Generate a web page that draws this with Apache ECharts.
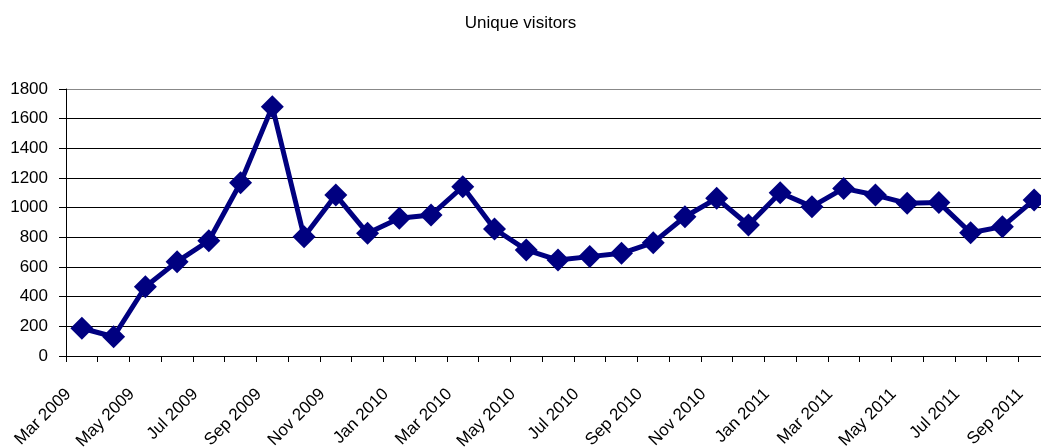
<!DOCTYPE html>
<html>
<head>
<meta charset="utf-8">
<script src="https://cdn.jsdelivr.net/npm/echarts@6/dist/echarts.min.js"></script>
<style>
html,body{margin:0;padding:0;background:#fff;}
#chart{width:1041px;height:448px;}
</style>
</head>
<body>
<div id="chart"></div>
<script>
const titleText = 'Unique visitors';
const months = ['Mar 2009','Apr 2009','May 2009','Jun 2009','Jul 2009','Aug 2009','Sep 2009','Oct 2009','Nov 2009','Dec 2009',
  'Jan 2010','Feb 2010','Mar 2010','Apr 2010','May 2010','Jun 2010','Jul 2010','Aug 2010','Sep 2010','Oct 2010','Nov 2010','Dec 2010',
  'Jan 2011','Feb 2011','Mar 2011','Apr 2011','May 2011','Jun 2011','Jul 2011','Aug 2011','Sep 2011'];
const visitors = [187,130,467,636,777,1168,1681,804,1085,827,
  928,950,1141,856,715,647,670,692,764,939,1063,883,
  1101,1007,1130,1085,1029,1034,831,872,1052];
const yTicks = {min:0, max:1800, interval:200};

const chart = echarts.init(document.getElementById('chart'));
const fontFam = '"Liberation Sans", Arial, sans-serif';
chart.setOption({
  animation:false,
  backgroundColor:'#fff',
  title:{text:titleText,left:'center',top:10,textStyle:{fontFamily:fontFam,fontSize:17,fontWeight:'normal',color:'#000'}},
  grid:{left:66,top:89,bottom:92,right:-9,containLabel:false,outerBoundsMode:'none'},
  xAxis:{type:'category',data:months,boundaryGap:true,
    axisLine:{lineStyle:{color:'#000',width:1}},
    axisTick:{show:true,length:6,interval:0,lineStyle:{color:'#000'}},
    axisLabel:{interval:1,rotate:45,margin:22,padding:[0,19,0,0],fontFamily:fontFam,fontSize:17,color:'#000'},
    splitLine:{show:false}},
  yAxis:{type:'value',min:yTicks.min,max:yTicks.max,interval:yTicks.interval,
    axisLine:{show:true,lineStyle:{color:'#000',width:1}},
    axisTick:{show:true,length:7,lineStyle:{color:'#000'}},
    axisLabel:{margin:18,fontFamily:fontFam,fontSize:17,color:'#000',formatter:function(v){return String(v);}},
    splitLine:{show:true,lineStyle:{color:['#000','#000','#000','#000','#000','#000','#000','#000','#000','#888'],width:1}}},
  series:[{type:'line',data:visitors,symbol:'diamond',symbolSize:23,showAllSymbol:true,
    lineStyle:{color:'#000080',width:5},itemStyle:{color:'#000080'},clip:false}]
});
</script>
</body>
</html>
